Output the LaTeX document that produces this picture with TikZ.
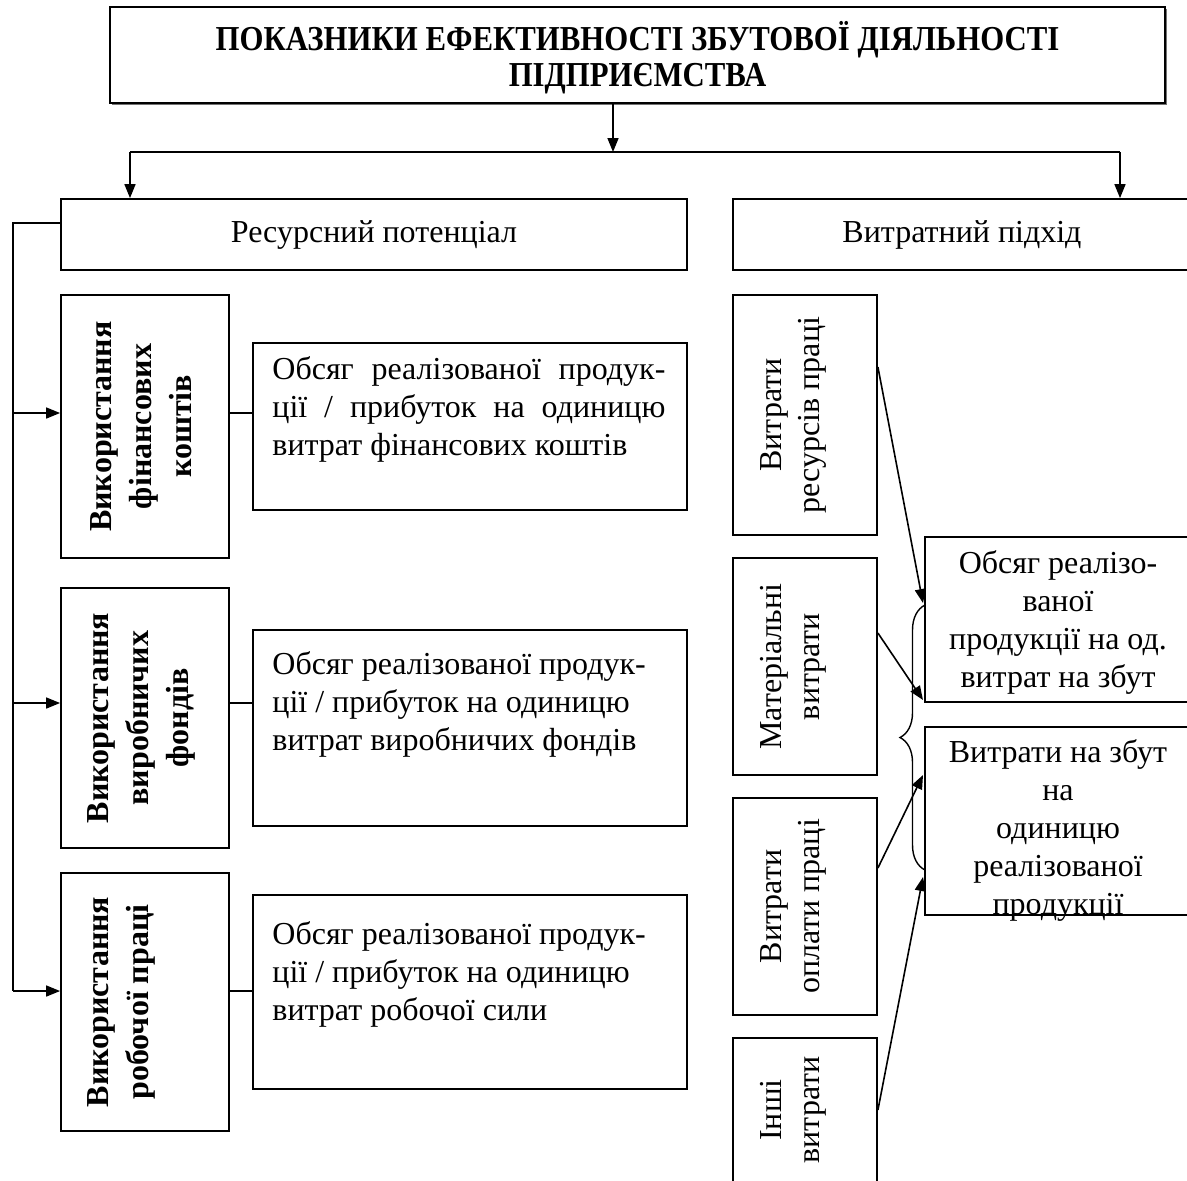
\documentclass[tikz,border=0pt]{standalone}
\usepackage{fontspec}
\setmainfont{Liberation Serif}
\usetikzlibrary{arrows.meta,decorations.pathreplacing,shadows}

\begin{document}
\begin{tikzpicture}[x=0.5pt,y=-0.5pt,
  frame/.style={draw, line width=0.9pt, inner sep=0pt, fill=white},
  arr/.style={-{Triangle[length=7pt,width=5.5pt]}, line width=0.8pt},
  link/.style={line width=0.8pt},
  body/.style={font=\fontsize{16}{19}\selectfont, inner sep=0pt},
  bodybf/.style={font=\fontsize{16}{20}\selectfont\bfseries, inner sep=0pt},
  headbf/.style={font=\fontsize{17.5}{18}\selectfont\bfseries, inner sep=0pt, align=center},
]
\useasboundingbox (0,0) rectangle (1187,1180);
\clip (0,0) rectangle (1187,1180);

% title block
\node[frame, drop shadow={shadow xshift=1pt, shadow yshift=-1pt, fill=black!55, opacity=1},
      minimum width=527.5pt, minimum height=48pt] (title) at (637.5,55) {};
\node[headbf] (titletext) at (637.5,58)
  {\scalebox{0.88}[1]{ПОКАЗНИКИ ЕФЕКТИВНОСТІ ЗБУТОВОЇ ДІЯЛЬНОСТІ}\\
   \scalebox{0.88}[1]{ПІДПРИЄМСТВА}};

% two groups
\node[frame, minimum width=313pt, minimum height=35.5pt] (rp) at (374,234.5) {};
\node[body] (rptext) at (374,234.5) {Ресурсний потенціал};
\node[frame, minimum width=229pt, minimum height=35.5pt] (vp) at (962,234.5) {};
\node[body] (vptext) at (962,234.5) {Витратний підхід};

% title -> groups
\coordinate (tj) at (613,152);
\coordinate (hl) at (130,152);
\coordinate (hr) at (1120,152);
\draw[arr] (tj |- title.south) -- (tj);
\draw[link] (hl) -- (hr);
\draw[arr] (hl) -- (hl |- rp.north);
\draw[arr] (hr) -- (hr |- vp.north);

% resource column
\node[frame, minimum width=84pt, minimum height=131.5pt] (l1) at (145,426.5) {};
\node[frame, minimum width=84pt, minimum height=130pt] (l2) at (145,718) {};
\node[frame, minimum width=84pt, minimum height=129pt] (l3) at (145,1002) {};
\node[bodybf, rotate=90, align=center] (l1text) at (141,426.5) {Використання\\фінансових\\коштів};
\node[bodybf, rotate=90, align=center] (l2text) at (141,718) {Використання\\виробничих\\фондів};
\node[bodybf, rotate=90, align=center] (l3text) at (121,1002) {Використання\\робочої праці};

\node[frame, minimum width=217pt, minimum height=83.5pt] (a) at (470,426.5) {};
\node[frame, minimum width=217pt, minimum height=98pt] (b) at (470,728) {};
\node[frame, minimum width=217pt, minimum height=97pt] (c) at (470,992) {};
\node[body, anchor=north west, align=left] (atext) at (272,356)
  {\makebox[196.5pt][s]{Обсяг реалізованої продук-}\\
   \makebox[196.5pt][s]{ції / прибуток на одиницю}\\
   витрат фінансових коштів};
\node[body, anchor=north west, align=left] (btext) at (272,651)
  {Обсяг реалізованої продук-\\ції / прибуток на одиницю\\витрат виробничих фондів};
\node[body, anchor=north west, align=left] (ctext) at (272,921)
  {Обсяг реалізованої продук-\\ції / прибуток на одиницю\\витрат робочої сили};

% bus from the resource group to its three boxes
\coordinate (bt) at (13,223);
\coordinate (l1in) at ([yshift=6.75pt]l1.west);
\coordinate (l2in) at ([yshift=7.5pt]l2.west);
\coordinate (l3in) at ([yshift=5.5pt]l3.west);
\draw[link] (bt -| rp.west) -- (bt) -- (bt |- l3in);
\draw[arr] (bt |- l1in) -- (l1in);
\draw[arr] (bt |- l2in) -- (l2in);
\draw[arr] (bt |- l3in) -- (l3in);
\draw[link] (l1in -| l1.east) -- (l1in -| a.west);
\draw[link] (l2in -| l2.east) -- (l2in -| b.west);
\draw[link] (l3in -| l3.east) -- (l3in -| c.west);

% cost column
\node[frame, minimum width=72pt, minimum height=120pt] (r1) at (805,415) {};
\node[frame, minimum width=72pt, minimum height=108.5pt] (r2) at (805,666.5) {};
\node[frame, minimum width=72pt, minimum height=108.5pt] (r3) at (805,906.5) {};
\node[frame, minimum width=72pt, minimum height=72pt] (r4) at (805,1110) {};
\node[body, rotate=90, align=center] (r1text) at (793,415) {Витрати\\ресурсів праці};
\node[body, rotate=90, align=center] (r2text) at (793,666.5) {Матеріальні\\витрати};
\node[body, rotate=90, align=center] (r3text) at (793,906.5) {Витрати\\оплати праці};
\node[body, rotate=90, align=center] (r4text) at (793,1110) {Інші\\витрати};

\node[frame, minimum width=133pt, minimum height=82.5pt] (t1) at (1058,619.5) {};
\node[frame, minimum width=133pt, minimum height=94pt] (t2) at (1058,821) {};
\node[body, align=center] (t1text) at (1058,622)
  {Обсяг реалізо-\\ваної\\продукції на од.\\витрат на збут};
\node[body, align=center] (t2text) at (1058,830)
  {Витрати на збут\\на\\одиницю\\реалізованої\\продукції};

% brace gathering the cost items
\coordinate (brb) at (925,870);
\coordinate (brt) at (925,605);
\draw[line width=0.7pt, decorate, decoration={brace, amplitude=12.5pt}] (brb) -- (brt);

% cost items -> brace
\coordinate (p1) at (923,603);
\coordinate (p2) at (923,700);
\coordinate (p3) at (923,775);
\coordinate (p4) at (923,877);
\draw[arr] ([yshift=24pt]r1.east) -- (p1);
\draw[arr] ([yshift=16.75pt]r2.east) -- (p2);
\draw[arr] ([yshift=19.25pt]r3.east) -- (p3);
\draw[arr] (r4.east) -- (p4);
\end{tikzpicture}
\end{document}
